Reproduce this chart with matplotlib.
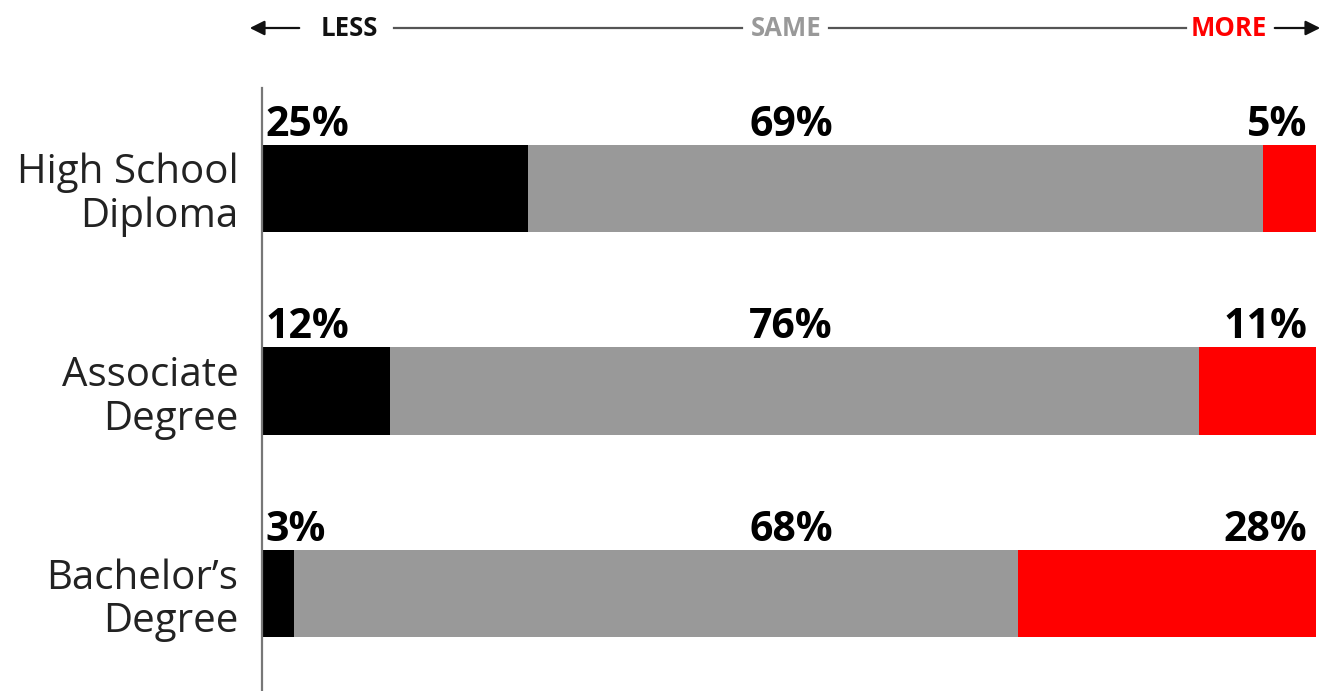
import numpy as np
import matplotlib.pyplot as plt
from matplotlib.lines import Line2D

plt.rcParams['font.family'] = ['Open Sans', 'DejaVu Sans']

categories = ["High School\nDiploma", "Associate\nDegree", "Bachelor\u2019s\nDegree"]
less = [25, 12, 3]
same = [69, 76, 68]
more = [5, 11, 28]

c_less = "#000000"
c_same = "#999999"
c_more = "#ff0000"

fig = plt.figure(figsize=(13.25, 6.91), dpi=100)
W, H = 1325, 691
ax = fig.add_axes([262 / W, 0, (1316 - 262) / W, 1 - 88 / H])

y = np.arange(len(categories))
less = np.array(less)
same = np.array(same)
more = np.array(more)
total = less + same + more

ax.barh(y, less, height=0.43, color=c_less)
ax.barh(y, same, left=less, height=0.43, color=c_same)
ax.barh(y, more, left=less + same, height=0.43, color=c_more)

ax.set_xlim(0, total.max())
ax.set_ylim(2.481, -0.496)

for i in range(len(categories)):
    ytop = y[i] - 0.43 / 2 - 0.045
    ax.text(0.3, ytop, f"{less[i]}%", ha="left", va="baseline", fontsize=29.5, fontweight="bold")
    ax.text(total[i] / 2 + 0.2, ytop, f"{same[i]}%", ha="center", va="baseline", fontsize=29.5, fontweight="bold")
    ax.text(total[i] - 0.8, ytop, f"{more[i]}%", ha="right", va="baseline", fontsize=29.5, fontweight="bold")

ax.set_yticks(y)
ax.set_yticklabels(categories, fontsize=29, linespacing=1.1, color="#222222")
ax.tick_params(axis="y", length=0, pad=17)
ax.set_xticks([])
for s in ["top", "right", "bottom"]:
    ax.spines[s].set_visible(False)
ax.spines["left"].set_color("#777777")
ax.spines["left"].set_linewidth(1.6)

# header scale: LESS - SAME - MORE
hy = H - 28
def fig_line(x0, x1, arrow=None):
    if arrow == "left":
        ax.annotate("", xy=(x0, hy), xytext=(x1, hy), xycoords="figure pixels",
                    textcoords="figure pixels",
                    arrowprops=dict(arrowstyle="-|>", color="#111111", lw=1.6, mutation_scale=22))
    elif arrow == "right":
        ax.annotate("", xy=(x1, hy), xytext=(x0, hy), xycoords="figure pixels",
                    textcoords="figure pixels",
                    arrowprops=dict(arrowstyle="-|>", color="#111111", lw=1.6, mutation_scale=22))
    else:
        fig.add_artist(Line2D([x0 / W, x1 / W], [hy / H, hy / H], color="#555555", lw=1.6))

fig_line(247, 302, "left")
fig_line(394, 742)
fig_line(829, 1186)
fig_line(1272, 1323, "right")
fig.text(349 / W, hy / H, "LESS", ha="center", va="center", fontsize=18.5, fontweight="bold", color="#111111")
fig.text(786 / W, hy / H, "SAME", ha="center", va="center", fontsize=18.5, fontweight="bold", color="#999999")
fig.text(1229 / W, hy / H, "MORE", ha="center", va="center", fontsize=18.5, fontweight="bold", color="#ff0000")

fig.savefig("out.png", dpi=100, facecolor="white")
